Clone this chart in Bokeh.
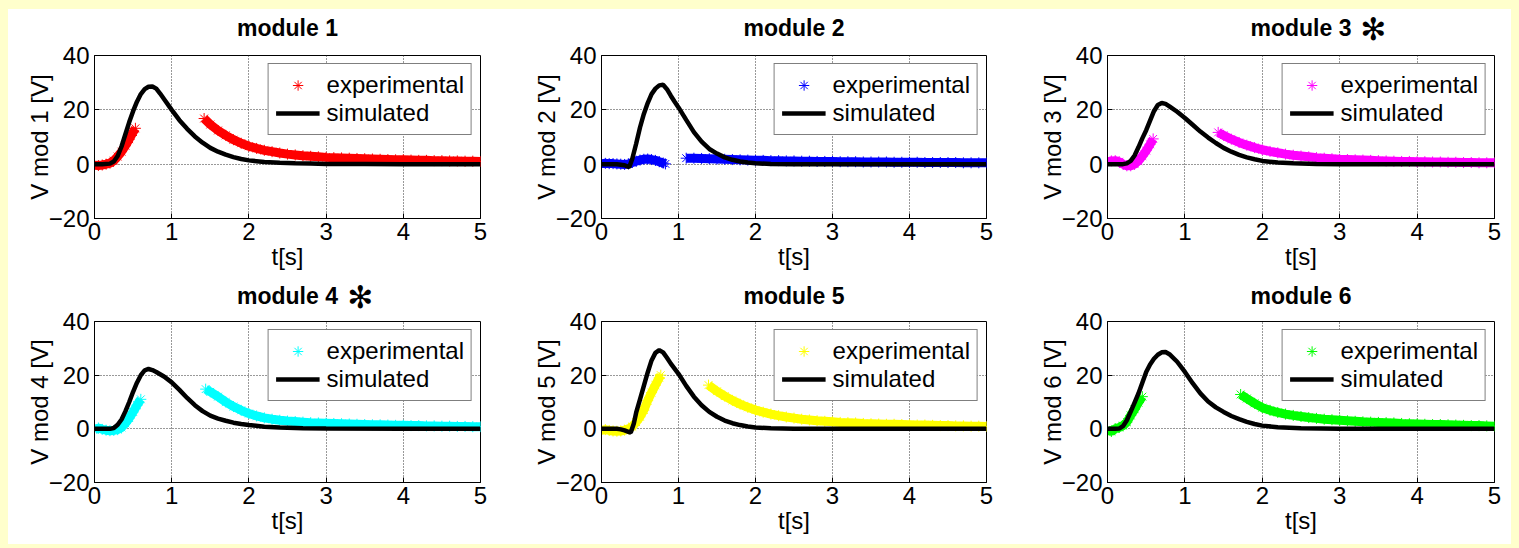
import numpy as np
from bokeh.plotting import figure
from bokeh.layouts import column, row
from bokeh.models import Range1d, FixedTicker, Legend, LegendItem, Spacer, Title
from bokeh.embed import file_html
from bokeh.resources import INLINE

nan = float("nan")

# ---------------- data ----------------
titles = ["module 1", "module 2", "module 3", "module 4", "module 5", "module 6"]
ylabels = ["V mod 1 [V]", "V mod 2 [V]", "V mod 3 [V]", "V mod 4 [V]", "V mod 5 [V]", "V mod 6 [V]"]
starred = [False, False, True, True, False, False]
exp_colors = ["#FF0000", "#0000FF", "#FF00FF", "#00FFFF", "#FFFF00", "#00FF00"]
x_ticks = [0, 1, 2, 3, 4, 5]
y_ticks = [-20, 0, 20, 40]

t_tail = [1.5, 1.6, 1.7, 1.8, 1.9, 2.0, 2.1, 2.2, 2.3, 2.4, 2.5, 2.6, 2.7, 2.8, 2.9, 3.0,
          3.1, 3.2, 3.3, 3.4, 3.5, 3.6, 3.7, 3.8, 3.9, 4.0, 4.1, 4.2, 4.3, 4.4, 4.5, 4.6,
          4.7, 4.8, 4.9, 5.0]

# experimental (early segment, gap, late segment)
t_exp1_a = [0, 0.05, 0.1, 0.15, 0.2, 0.25, 0.3, 0.35, 0.4, 0.45, 0.5, 0.53]
v_exp1_a = [-0.4, -0.5, -0.3, 0.0, 0.4, 1.3, 2.8, 4.6, 6.8, 9.2, 11.8, 13.2]
t_exp1_b = [1.42] + t_tail
v_exp1_b = [16.8, 14.6, 12.4, 10.6, 9.0, 7.7, 6.6, 5.8, 5.1, 4.6, 4.1, 3.7, 3.4, 3.1, 2.9, 2.7,
            2.5, 2.4, 2.3, 2.2, 2.1, 2.0, 1.9, 1.8, 1.7, 1.6, 1.6, 1.5, 1.4, 1.4, 1.3, 1.3,
            1.2, 1.2, 1.1, 1.1, 1.0]

t_exp2_a = [0, 0.05, 0.1, 0.15, 0.2, 0.25, 0.3, 0.35, 0.4, 0.45, 0.5, 0.55, 0.6, 0.65, 0.7, 0.75, 0.8, 0.83]
v_exp2_a = [0.2, 0.3, 0.2, 0.2, 0.1, 0.0, -0.1, 0.1, 0.6, 1.1, 1.5, 1.8, 1.9, 1.7, 1.4, 0.9, 0.4, 0.1]
t_exp2_b = [1.1, 1.2, 1.3, 1.4] + t_tail
v_exp2_b = [2.2, 2.2, 2.1, 2.0, 1.9, 1.8, 1.7, 1.6, 1.5, 1.4, 1.4, 1.3, 1.3, 1.2, 1.2, 1.1,
            1.1, 1.0, 1.0, 1.0, 0.9, 0.9, 0.9, 0.8, 0.8, 0.8, 0.8, 0.7, 0.7, 0.7, 0.7, 0.6,
            0.6, 0.6, 0.6, 0.6, 0.5, 0.5, 0.5, 0.5]

t_exp3_a = [0, 0.05, 0.1, 0.15, 0.2, 0.25, 0.3, 0.35, 0.4, 0.45, 0.5, 0.55, 0.59]
v_exp3_a = [0.8, 1.2, 1.3, 0.9, 0.0, -0.6, -0.6, 0.0, 1.2, 3.0, 5.0, 7.3, 9.3]
t_exp3_b = [1.43] + t_tail
v_exp3_b = [11.7, 10.6, 9.2, 8.0, 7.0, 6.1, 5.3, 4.7, 4.2, 3.7, 3.3, 3.0, 2.7, 2.4, 2.2, 2.0,
            1.8, 1.7, 1.6, 1.5, 1.4, 1.3, 1.2, 1.1, 1.0, 1.0, 0.9, 0.9, 0.8, 0.8, 0.7, 0.7,
            0.6, 0.6, 0.5, 0.5, 0.5]

t_exp4_a = [0, 0.05, 0.1, 0.15, 0.2, 0.25, 0.3, 0.35, 0.4, 0.45, 0.5, 0.55, 0.6]
v_exp4_a = [-0.3, 0.3, -0.2, -0.5, -0.7, -0.6, -0.3, 0.5, 2.0, 4.0, 6.3, 8.8, 11.0]
t_exp4_b = [1.44] + t_tail
v_exp4_b = [14.8, 13.8, 12.0, 10.0, 8.3, 6.9, 5.7, 4.8, 4.1, 3.6, 3.2, 2.9, 2.7, 2.5, 2.3, 2.2,
            2.1, 2.0, 1.9, 1.8, 1.7, 1.6, 1.5, 1.5, 1.4, 1.3, 1.3, 1.2, 1.2, 1.1, 1.1, 1.0,
            1.0, 0.9, 0.9, 0.8, 0.8]

t_exp5_a = [0, 0.05, 0.1, 0.15, 0.2, 0.25, 0.3, 0.35, 0.4, 0.45, 0.5, 0.55, 0.6, 0.65, 0.7, 0.75, 0.77]
v_exp5_a = [-0.5, -0.3, -0.6, -0.8, -0.9, -0.8, -0.5, 0.0, 0.8, 2.5, 4.5, 7.0, 10.5, 13.5, 16.3, 19.0, 20.0]
t_exp5_b = [1.39] + t_tail
v_exp5_b = [16.3, 14.0, 12.2, 10.6, 9.2, 8.0, 7.0, 6.2, 5.5, 4.9, 4.4, 4.0, 3.6, 3.3, 3.0, 2.8,
            2.6, 2.4, 2.3, 2.2, 2.0, 1.9, 1.8, 1.7, 1.7, 1.6, 1.5, 1.4, 1.4, 1.3, 1.2, 1.2,
            1.1, 1.1, 1.0, 1.0, 0.9]

t_exp6_a = [0, 0.05, 0.1, 0.15, 0.2, 0.25, 0.3, 0.35, 0.4, 0.45]
v_exp6_a = [-0.5, -1.0, 0.0, 0.5, 1.2, 2.5, 5.0, 7.3, 9.8, 12.0]
t_exp6_b = [1.72, 1.8, 1.9, 2.0, 2.1, 2.2, 2.3, 2.4, 2.5, 2.6, 2.7, 2.8, 2.9, 3.0, 3.1, 3.2, 3.3,
            3.4, 3.5, 3.6, 3.7, 3.8, 3.9, 4.0, 4.1, 4.2, 4.3, 4.4, 4.5, 4.6, 4.7, 4.8, 4.9, 5.0]
v_exp6_b = [12.8, 11.3, 9.5, 7.9, 6.9, 6.1, 5.5, 5.0, 4.6, 4.2, 3.9, 3.6, 3.4, 3.2, 3.0, 2.8, 2.6,
            2.5, 2.4, 2.3, 2.2, 2.0, 1.9, 1.8, 1.7, 1.6, 1.6, 1.5, 1.4, 1.3, 1.2, 1.2, 1.1, 1.0]

# simulated
t_sim1 = [0, 0.1, 0.2, 0.25, 0.3, 0.35, 0.4, 0.45, 0.5, 0.55, 0.6, 0.65, 0.7, 0.75, 0.8, 0.85, 0.9,
          1.0, 1.1, 1.2, 1.3, 1.4, 1.5, 1.6, 1.7, 1.8, 1.9, 2.0, 2.2, 2.4, 2.6, 2.8, 3.0, 3.5, 4.0, 4.5, 5.0]
v_sim1 = [0, 0, 0.2, 1.0, 3.0, 6.5, 11.0, 15.5, 19.5, 23.0, 25.8, 27.6, 28.5, 28.6, 27.8, 26.0, 24.0,
          20.0, 16.2, 13.0, 10.2, 7.9, 6.0, 4.6, 3.5, 2.6, 1.9, 1.4, 0.8, 0.5, 0.3, 0.2, 0.1, 0.05, 0, 0, 0]

t_sim2 = [0, 0.1, 0.2, 0.3, 0.36, 0.4, 0.45, 0.5, 0.55, 0.6, 0.65, 0.7, 0.75, 0.8, 0.85, 0.9, 0.95,
          1.0, 1.1, 1.2, 1.3, 1.4, 1.5, 1.6, 1.7, 1.8, 1.9, 2.0, 2.2, 2.5, 3.0, 4.0, 5.0]
v_sim2 = [0, 0, 0, -0.4, -1.1, 2.0, 7.5, 13.5, 18.5, 22.5, 25.8, 27.8, 29.0, 29.2, 27.6, 25.2, 23.0,
          20.9, 16.3, 11.8, 8.3, 5.6, 3.9, 2.5, 1.6, 1.0, 0.6, 0.3, 0.1, 0, 0, 0, 0]

t_sim3 = [0, 0.1, 0.2, 0.25, 0.3, 0.35, 0.4, 0.45, 0.5, 0.55, 0.6, 0.65, 0.7, 0.75, 0.8, 0.9, 1.0,
          1.1, 1.2, 1.3, 1.4, 1.5, 1.6, 1.7, 1.8, 1.9, 2.0, 2.2, 2.4, 2.7, 3.0, 4.0, 5.0]
v_sim3 = [0, 0, 0, 0.3, 1.2, 3.2, 6.2, 9.5, 12.5, 16.0, 19.5, 21.8, 22.5, 22.2, 21.3, 19.3, 17.0,
          14.5, 12.0, 9.8, 7.8, 6.0, 4.6, 3.4, 2.5, 1.8, 1.2, 0.6, 0.3, 0.1, 0, 0, 0]

t_sim4 = [0, 0.1, 0.2, 0.25, 0.3, 0.35, 0.4, 0.45, 0.5, 0.55, 0.6, 0.65, 0.7, 0.75, 0.8, 0.9, 1.0,
          1.1, 1.2, 1.3, 1.4, 1.5, 1.6, 1.7, 1.8, 1.9, 2.0, 2.2, 2.4, 2.7, 3.0, 4.0, 5.0]
v_sim4 = [0, 0, 0, 0.3, 1.5, 3.5, 6.5, 10.0, 13.8, 17.2, 20.0, 21.8, 22.3, 21.9, 21.2, 19.5, 17.3,
          14.5, 11.5, 8.8, 6.6, 4.9, 3.8, 3.0, 2.3, 1.8, 1.4, 0.8, 0.5, 0.2, 0.1, 0, 0]

t_sim5 = [0, 0.1, 0.2, 0.25, 0.3, 0.35, 0.38, 0.42, 0.45, 0.5, 0.55, 0.6, 0.65, 0.7, 0.75, 0.8, 0.85,
          0.9, 1.0, 1.1, 1.2, 1.3, 1.4, 1.5, 1.6, 1.7, 1.8, 1.9, 2.0, 2.2, 2.5, 3.0, 4.0, 5.0]
v_sim5 = [0, 0, 0, -0.2, -0.6, -1.1, -1.4, 2.0, 6.0, 11.0, 16.0, 21.0, 25.5, 28.3, 29.3, 28.5, 26.5,
          24.3, 20.5, 16.0, 12.0, 8.8, 6.3, 4.5, 3.1, 2.1, 1.4, 0.9, 0.5, 0.2, 0.05, 0, 0, 0]

t_sim6 = [0, 0.1, 0.15, 0.2, 0.25, 0.3, 0.35, 0.4, 0.45, 0.5, 0.55, 0.6, 0.65, 0.7, 0.75, 0.8, 0.9,
          1.0, 1.1, 1.2, 1.3, 1.4, 1.5, 1.6, 1.7, 1.8, 1.9, 2.0, 2.2, 2.5, 3.0, 4.0, 5.0]
v_sim6 = [0, 0, 0.1, 1.0, 3.2, 6.4, 9.8, 13.2, 17.2, 21.2, 24.0, 26.1, 27.6, 28.5, 28.6, 27.8, 25.0,
          21.2, 17.0, 13.2, 10.2, 8.0, 6.3, 4.8, 3.6, 2.6, 1.8, 1.2, 0.6, 0.2, 0, 0, 0]

exp_t = [t_exp1_a + [nan] + t_exp1_b, t_exp2_a + [nan] + t_exp2_b, t_exp3_a + [nan] + t_exp3_b,
         t_exp4_a + [nan] + t_exp4_b, t_exp5_a + [nan] + t_exp5_b, t_exp6_a + [nan] + t_exp6_b]
exp_v = [v_exp1_a + [nan] + v_exp1_b, v_exp2_a + [nan] + v_exp2_b, v_exp3_a + [nan] + v_exp3_b,
         v_exp4_a + [nan] + v_exp4_b, v_exp5_a + [nan] + v_exp5_b, v_exp6_a + [nan] + v_exp6_b]
sim_t = [t_sim1, t_sim2, t_sim3, t_sim4, t_sim5, t_sim6]
sim_v = [v_sim1, v_sim2, v_sim3, v_sim4, v_sim5, v_sim6]

# ---------------- layout ----------------
FONT = "Liberation Sans"
col_w = [506, 506, 491]
col_left = [86, 87, 87]
frame_w = [386, 385, 387]
row_h = [268, 267]
row_top = [46, 44]
frame_h = [163, 161]
title_lh = [0.55, 0.47]
star_standoff = [-67, -66]


def style_module_title(t, text, r):
    t.text = text + "\n\u00a0"
    t.align = "center"
    t.text_font = FONT
    t.text_font_size = "23px"
    t.text_font_style = "bold"
    t.text_color = "black"
    t.text_line_height = title_lh[r]
    t.standoff = 0


def panel(i):
    r, c = divmod(i, 3)
    p = figure(width=col_w[c], height=row_h[r], x_range=Range1d(0, 5), y_range=Range1d(-20, 40),
               output_backend="svg", toolbar_location=None,
               min_border_left=col_left[c], min_border_right=col_w[c] - col_left[c] - frame_w[c],
               min_border_top=row_top[r], min_border_bottom=row_h[r] - row_top[r] - frame_h[r])
    p.background_fill_color = "white"
    p.border_fill_color = "white"
    p.outline_line_color = "black"
    p.outline_line_width = 1

    if starred[i]:
        # outer title: the large asterisk mark; inner title: the module name
        p.title.text = "\u273B"
        p.title.align = "left"
        p.title.offset = 253
        p.title.text_font = "DejaVu Sans"
        p.title.text_font_size = "31px"
        p.title.text_font_style = "normal"
        p.title.text_color = "black"
        p.title.vertical_align = "bottom"
        p.title.standoff = star_standoff[r]
        inner = Title()
        style_module_title(inner, titles[i], r)
        p.add_layout(inner, "above")
    else:
        style_module_title(p.title, titles[i], r)

    p.xaxis.ticker = FixedTicker(ticks=x_ticks)
    p.yaxis.ticker = FixedTicker(ticks=y_ticks)
    p.xaxis.axis_label = "t[s]"
    p.yaxis.axis_label = ylabels[i]
    for ax in (p.xaxis, p.yaxis):
        ax.axis_line_color = "black"
        ax.major_tick_line_color = "black"
        ax.major_tick_in = 5
        ax.major_tick_out = 0
        ax.minor_tick_in = 0
        ax.minor_tick_out = 0
        ax.major_label_text_font = FONT
        ax.major_label_text_font_size = "24px"
        ax.major_label_text_color = "black"
        ax.major_label_standoff = 5
        ax.axis_label_text_font = FONT
        ax.axis_label_text_font_size = "24px"
        ax.axis_label_text_font_style = "normal"
        ax.axis_label_text_color = "black"
    p.xaxis.major_label_standoff = 4
    p.xaxis.axis_label_standoff = 0
    p.yaxis.axis_label_standoff = -7

    for g in (p.xgrid, p.ygrid):
        g.grid_line_color = "#333333"
        g.grid_line_dash = "1 2"
        g.grid_line_width = 1

    te = np.array(exp_t[i], dtype=float)
    ve = np.array(exp_v[i], dtype=float)
    col = exp_colors[i]
    p.line(te, ve, line_color=col, line_width=9)
    r_exp = p.scatter(te, ve, marker="asterisk", size=11, line_color=col, line_width=1)
    r_sim = p.line(np.array(sim_t[i], dtype=float), np.array(sim_v[i], dtype=float),
                   line_color="black", line_width=4.5)

    legend = Legend(items=[LegendItem(label="experimental", renderers=[r_exp]),
                           LegendItem(label="simulated", renderers=[r_sim])],
                    location="top_right")
    legend.border_line_color = "black"
    legend.border_line_width = 1
    legend.background_fill_color = "white"
    legend.background_fill_alpha = 1
    legend.label_text_font = FONT
    legend.label_text_font_size = "24px"
    legend.label_text_color = "black"
    legend.glyph_width = 44
    legend.glyph_height = 26
    legend.label_height = 26
    legend.label_standoff = 7
    legend.padding = 7
    legend.spacing = 0
    legend.margin = 8
    p.add_layout(legend)
    return p


plots = [panel(i) for i in range(6)]
white = {"background-color": "white"}
grid = column(row(plots[0], plots[1], plots[2], styles=white),
              row(plots[3], plots[4], plots[5], styles=white), styles=white)
layout = column(Spacer(width=1519, height=9),
                row(Spacer(width=8, height=535), grid, Spacer(width=8, height=535)),
                Spacer(width=1519, height=4),
                styles={"background-color": "#FFFFCC"})

open("out.html", "w").write(file_html(layout, INLINE))
